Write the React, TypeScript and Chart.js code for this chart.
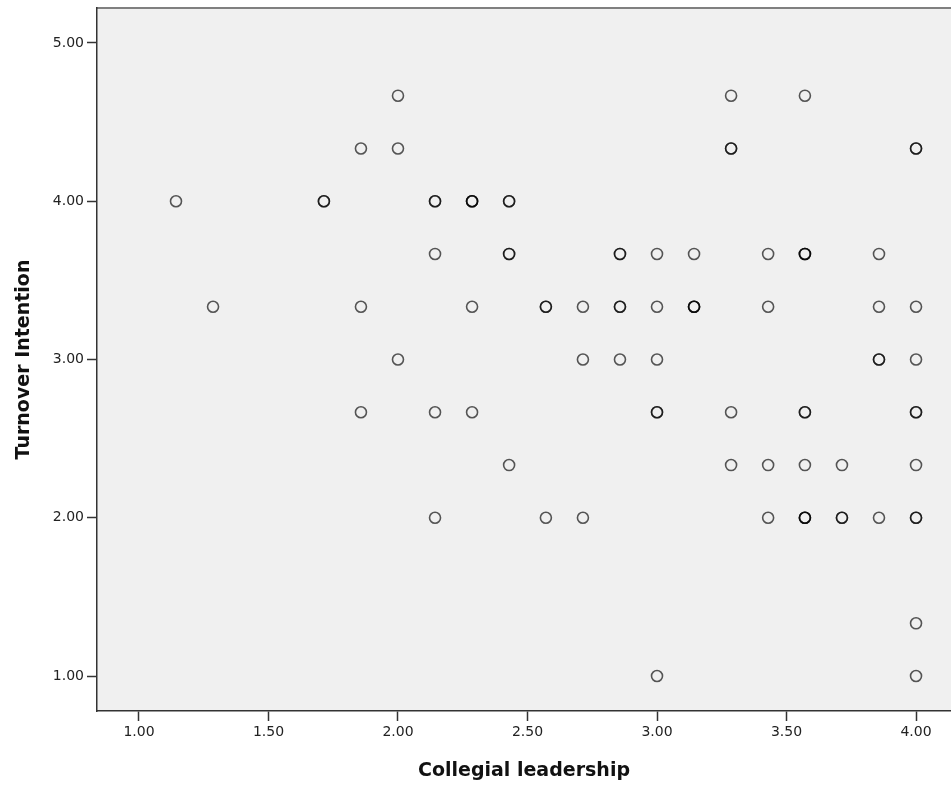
import React, { useEffect, useRef } from "react";
import { Chart, registerables } from "chart.js";

Chart.register(...registerables);

// Scatter data (Collegial leadership vs Turnover Intention); counts = overlapping cases
const xValues = [
  2.0, 3.286, 3.571,
  1.857, 2.0, 3.286, 4.0,
  1.143, 1.714, 2.143, 2.286, 2.429,
  2.143, 2.429, 2.857, 3.0, 3.143, 3.429, 3.571, 3.857,
  1.286, 1.857, 2.286, 2.571, 2.714, 2.857, 3.0, 3.143, 3.429, 3.857, 4.0,
  2.0, 2.714, 2.857, 3.0, 3.857, 4.0,
  1.857, 2.143, 2.286, 3.0, 3.286, 3.571, 4.0,
  2.429, 3.286, 3.429, 3.571, 3.714, 4.0,
  2.143, 2.571, 2.714, 3.429, 3.571, 3.714, 3.857, 4.0,
  4.0,
  3.0, 4.0,
];
const yValues = [
  4.667, 4.667, 4.667,
  4.333, 4.333, 4.333, 4.333,
  4.0, 4.0, 4.0, 4.0, 4.0,
  3.667, 3.667, 3.667, 3.667, 3.667, 3.667, 3.667, 3.667,
  3.333, 3.333, 3.333, 3.333, 3.333, 3.333, 3.333, 3.333, 3.333, 3.333, 3.333,
  3.0, 3.0, 3.0, 3.0, 3.0, 3.0,
  2.667, 2.667, 2.667, 2.667, 2.667, 2.667, 2.667,
  2.333, 2.333, 2.333, 2.333, 2.333, 2.333,
  2.0, 2.0, 2.0, 2.0, 2.0, 2.0, 2.0, 2.0,
  1.333,
  1.0, 1.0,
];
const counts = [
  1, 1, 1,
  1, 1, 2, 2,
  1, 2, 2, 3, 2,
  1, 2, 2, 1, 1, 1, 3, 1,
  1, 1, 1, 2, 1, 2, 1, 3, 1, 1, 1,
  1, 1, 1, 1, 2, 1,
  1, 1, 1, 2, 1, 2, 2,
  1, 1, 1, 1, 1, 1,
  1, 1, 1, 1, 3, 2, 1, 2,
  1,
  1, 1,
];
const xTicks = [1.0, 1.5, 2.0, 2.5, 3.0, 3.5, 4.0];
const yTicks = [1.0, 2.0, 3.0, 4.0, 5.0];
const xTitle = "Collegial leadership";
const yTitle = "Turnover Intention";

const bgPlugin = {
  id: "plotBg",
  beforeDraw(chart: any) {
    const { ctx, chartArea } = chart;
    ctx.save();
    ctx.fillStyle = "#f0f0f0";
    ctx.fillRect(chartArea.left, chartArea.top, chartArea.right - chartArea.left, chartArea.bottom - chartArea.top);
    ctx.strokeStyle = "#808080";
    ctx.lineWidth = 2;
    ctx.beginPath();
    ctx.moveTo(chartArea.left, chartArea.top);
    ctx.lineTo(chartArea.right, chartArea.top);
    ctx.stroke();
    ctx.restore();
  },
};

export default function App() {
  const ref = useRef<HTMLCanvasElement>(null);
  useEffect(() => {
    if (!ref.current) return;
    const pts: { x: number; y: number }[] = [];
    xValues.forEach((x, i) => {
      for (let k = 0; k < counts[i]; k++) pts.push({ x, y: yValues[i] });
    });
    const tickFont = { family: "DejaVu Sans", size: 14 };
    const titleFont = { family: "DejaVu Sans", size: 19, weight: "bold" };
    const chart = new Chart(ref.current, {
      type: "scatter",
      data: {
        datasets: [
          {
            data: pts,
            pointRadius: 5.5,
            pointBorderWidth: 1.6,
            pointBorderColor: "rgba(0,0,0,0.65)",
            pointBackgroundColor: "rgba(0,0,0,0)",
            pointHoverRadius: 5.5,
          },
        ],
      },
      options: {
        animation: false,
        responsive: false,
        layout: { autoPadding: false, padding: { top: 8, left: 0, right: 0, bottom: 0 } },
        plugins: { legend: { display: false }, tooltip: { enabled: false } },
        scales: {
          x: {
            type: "linear",
            min: 0.838,
            max: 4.135,
            afterBuildTicks: (s: any) => {
              s.ticks = xTicks.map((v) => ({ value: v }));
            },
            afterFit: (s: any) => {
              s.height = 79;
              s.paddingLeft = 0;
              s.paddingRight = 0;
            },
            ticks: {
              font: tickFont,
              color: "#222",
              padding: 3,
              maxRotation: 0,
              callback: (v: any) => Number(v).toFixed(2),
            },
            grid: { drawOnChartArea: false, drawTicks: true, tickLength: 10, tickWidth: 1.5, tickColor: "#333" },
            border: { display: true, color: "#333", width: 1.5 },
            title: {
              display: true,
              text: xTitle,
              font: titleFont,
              color: "#111",
              padding: { top: 0, bottom: 8 },
            },
          },
          y: {
            type: "linear",
            min: 0.779,
            max: 5.221,
            afterBuildTicks: (s: any) => {
              s.ticks = yTicks.map((v) => ({ value: v }));
            },
            afterFit: (s: any) => {
              s.width = 97;
              s.paddingTop = 0;
              s.paddingBottom = 0;
            },
            ticks: {
              font: tickFont,
              color: "#222",
              padding: 3,
              callback: (v: any) => Number(v).toFixed(2),
            },
            grid: { drawOnChartArea: false, drawTicks: true, tickLength: 10, tickWidth: 1.5, tickColor: "#333" },
            border: { display: true, color: "#333", width: 1.5 },
            title: {
              display: true,
              text: yTitle,
              font: titleFont,
              color: "#111",
              padding: { top: 12.5, bottom: 0 },
            },
          },
        },
      },
      plugins: [bgPlugin],
    } as any);
    return () => chart.destroy();
  }, []);
  return (
    <div style={{ position: "fixed", left: 0, top: 0, width: 951, height: 790, background: "#fff" }}>
      <canvas ref={ref} width={951} height={790} style={{ display: "block" }} />
    </div>
  );
}
